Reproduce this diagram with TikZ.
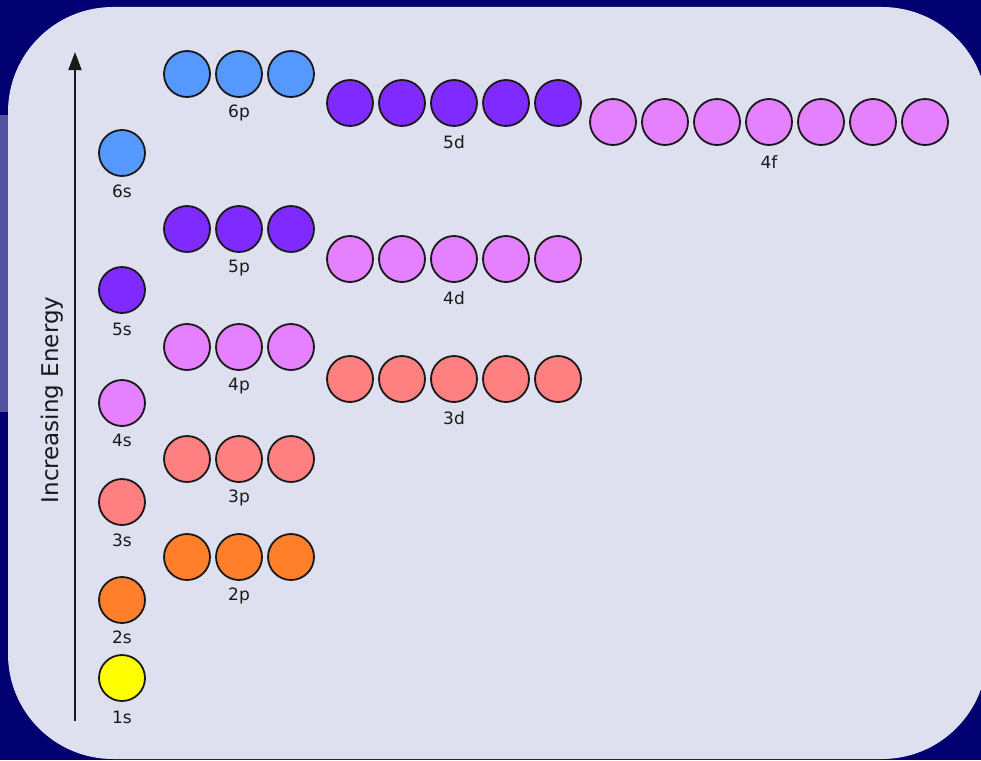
\documentclass[tikz,border=0pt]{standalone}
\usepackage{fontspec}
\setmainfont{DejaVu Sans}
\usetikzlibrary{arrows.meta}
\definecolor{navy}{RGB}{0,0,112}
\definecolor{strip}{RGB}{82,82,160}
\definecolor{panel}{RGB}{223,224,239}
\definecolor{cblue}{RGB}{85,153,255}
\definecolor{cpurple}{RGB}{127,42,255}
\definecolor{cpink}{RGB}{229,128,255}
\definecolor{csalmon}{RGB}{255,128,128}
\definecolor{corange}{RGB}{255,127,42}
\definecolor{cyellow}{RGB}{255,255,0}
\definecolor{ink}{RGB}{25,25,25}
\tikzset{
  orb/.style={circle, draw=ink, line width=1.8pt, minimum size=46pt, inner sep=0pt, fill=#1},
  lbl/.style={font=\fontsize{17}{17}\selectfont, text=ink, inner sep=0pt},
}
\begin{document}
\begin{tikzpicture}[x=1pt,y=-1pt]
\useasboundingbox (0,0) rectangle (981,760);
\fill[navy] (0,0) rectangle (981,760);
\fill[strip] (0,115) rectangle (30,412);
\fill[panel, rounded corners=105pt] (8,7) rectangle (987,759);
% axis
\coordinate (abot) at (75,721);
\coordinate (atop) at (75,52);
\draw[line width=1.8pt, ink, -{Triangle[length=18pt,width=13pt]}] (abot) -- (atop);
\node[font=\fontsize{23}{23}\selectfont, text=ink, rotate=90] (energy) at (52,400) {Increasing Energy};
% s orbitals
\node[orb=cyellow] (s1) at (122,678) {};
\node[orb=corange] (s2) at (122,600) {};
\node[orb=csalmon] (s3) at (122,502) {};
\node[orb=cpink] (s4) at (122,403) {};
\node[orb=cpurple] (s5) at (122,290) {};
\node[orb=cblue] (s6) at (122,153) {};
\node[lbl] (l1s) at (122,717) {1s};
\node[lbl] (l2s) at (122,637) {2s};
\node[lbl] (l3s) at (122,540) {3s};
\node[lbl] (l4s) at (122,440) {4s};
\node[lbl] (l5s) at (122,329) {5s};
\node[lbl] (l6s) at (122,191) {6s};
% p orbitals
\foreach \n/\y/\c in {2/557/corange, 3/459/csalmon, 4/347/cpink, 5/229/cpurple, 6/74/cblue}{
  \foreach \k in {1,2,3}{
    \node[orb=\c] (p\n-\k) at ({135+52*\k},\y) {};
  }
  \node[lbl] (l\n p) at (239,\y+39) {\n p};
}
% d orbitals
\foreach \n/\y/\c in {3/379/csalmon, 4/259/cpink, 5/103/cpurple}{
  \foreach \k in {1,...,5}{
    \node[orb=\c] (d\n-\k) at ({298+52*\k},\y) {};
  }
  \node[lbl] (l\n d) at (454,\y+39) {\n d};
}
% f orbitals
\foreach \k in {1,...,7}{
  \node[orb=cpink] (f4-\k) at ({561+52*\k},122) {};
}
\node[lbl] (l4f) at (769,162) {4f};
\end{tikzpicture}
\end{document}
